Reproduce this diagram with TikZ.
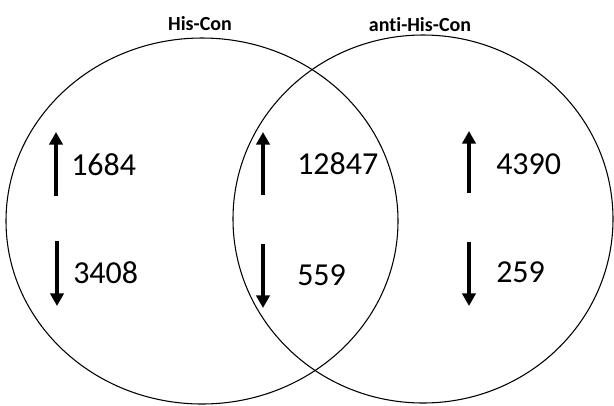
\documentclass[tikz,border=0pt]{standalone}
\usepackage{fontspec}
\setmainfont{Carlito}[Ligatures=NoCommon]
\usetikzlibrary{arrows.meta,positioning}
\tikzset{
  setln/.style={line width=0.8pt, black},
  countarrow/.style={-{Triangle[length=9.5pt,width=10pt]}, line width=3.2pt},
  countlbl/.style={anchor=base west, inner sep=0pt, font=\fontsize{24}{28}\selectfont},
  titlelbl/.style={anchor=base, inner sep=0pt, font=\bfseries\fontsize{15}{18}\selectfont},
}

\begin{document}
\begin{tikzpicture}[x=0.75pt,y=-0.75pt]
    \useasboundingbox (0,0) rectangle (614,405);
    % the two sets
    \draw[setln] (202,221) ellipse [x radius=196, y radius=183];
    \draw[setln] (423,219) ellipse [x radius=190, y radius=184];
    \node[titlelbl] (tHis) at (200,30) {His-Con};
    \node[titlelbl] (tAnti) at (420,31) {anti-His-Con};
    % His-Con only
    \coordinate (aLu0) at (56,196); \coordinate (aLu1) at (56,132);
    \coordinate (aLd0) at (57,241); \coordinate (aLd1) at (57,306);
    \draw[countarrow] (aLu0) -- (aLu1);
    \draw[countarrow] (aLd0) -- (aLd1);
    \node[countlbl] (nLup) at (71,175) {1684};
    \node[countlbl] (nLdn) at (73,283) {3408};
    % both
    \coordinate (aMu0) at (263,195); \coordinate (aMu1) at (263,132);
    \coordinate (aMd0) at (263,244); \coordinate (aMd1) at (263,308);
    \draw[countarrow] (aMu0) -- (aMu1);
    \draw[countarrow] (aMd0) -- (aMd1);
    \node[countlbl] (nMup) at (297,174) {12847};
    \node[countlbl] (nMdn) at (297,285) {559};
    % anti-His-Con only
    \coordinate (aRu0) at (469,193); \coordinate (aRu1) at (469,131);
    \coordinate (aRd0) at (469,242); \coordinate (aRd1) at (469,306);
    \draw[countarrow] (aRu0) -- (aRu1);
    \draw[countarrow] (aRd0) -- (aRd1);
    \node[countlbl] (nRup) at (496,174) {4390};
    \node[countlbl] (nRdn) at (496,282) {259};
  \end{tikzpicture}
\end{document}
